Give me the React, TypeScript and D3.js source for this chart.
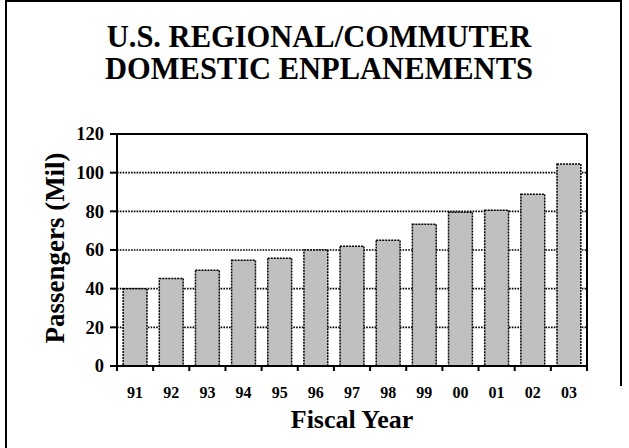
import * as d3 from "d3";

const years = ["91", "92", "93", "94", "95", "96", "97", "98", "99", "00", "01", "02", "03"];
const passengers = [40, 45.3, 49.5, 54.7, 55.7, 60, 61.9, 65, 73.3, 79.5, 80.5, 88.8, 104.5];
const yTicks = [0, 20, 40, 60, 80, 100, 120];
const titleLines = ["U.S. REGIONAL/COMMUTER", "DOMESTIC ENPLANEMENTS"];

export default function App() {
    // chart size and plot box
    const width = 629;
    const height = 448;
    const left = 117;
    const right = 587;
    const top = 134;
    const bottom = 366;
    const font = "'Liberation Serif', 'Times New Roman', serif";

    const x = d3.scaleBand<string>()
        .domain(years)
        .range([left, right])
        .paddingInner(0.34)
        .paddingOuter(0.17);

    const y = d3.scaleLinear()
        .domain([0, 120])
        .range([bottom, top]);

    const step = x.step();
    const rows = years.map((yr, i) => ({ yr, v: passengers[i] }));

    return (
        <svg
            width={width}
            height={height}
            style={{ position: "absolute", left: 0, top: 0, display: "block", background: "#fff" }}
            fontFamily={font}
            fontWeight="bold"
        >
            {/* outer frame */}
            <line x1={6} y1={0} x2={6} y2={448} stroke="#000" strokeWidth={2} />
            <line x1={6} y1={1} x2={622} y2={1} stroke="#000" strokeWidth={2} />
            <line x1={621} y1={0} x2={621} y2={386} stroke="#000" strokeWidth={2} />

            {/* title */}
            {titleLines.map((t, i) => (
                <text key={t} x={319} y={47 + i * 32} textAnchor="middle" fontSize={30.5}>{t}</text>
            ))}

            {/* gridlines */}
            {yTicks.filter(t => t > 0 && t < 120).map(t => (
                <line key={t} x1={left} x2={right} y1={y(t)} y2={y(t)}
                    stroke="#000" strokeWidth={1.6} strokeDasharray="1.6,1.2" />
            ))}

            {/* bars */}
            {rows.map(d => (
                <rect key={d.yr}
                    x={x(d.yr)}
                    y={y(d.v)}
                    width={x.bandwidth()}
                    height={bottom - y(d.v)}
                    fill="#c0c0c0"
                    stroke="#000"
                    strokeWidth={1.5}
                    strokeDasharray="2,1"
                />
            ))}

            {/* plot frame */}
            <line x1={left} x2={right} y1={top} y2={top} stroke="#000" strokeWidth={2} />
            <line x1={right} x2={right} y1={top} y2={bottom} stroke="#000" strokeWidth={2} />
            <line x1={left} x2={left} y1={top - 1} y2={bottom + 1} stroke="#000" strokeWidth={2} />
            <line x1={left - 1} x2={right + 1} y1={bottom} y2={bottom} stroke="#000" strokeWidth={2} />

            {/* y axis ticks and labels */}
            {yTicks.map(t => (
                <g key={t}>
                    <line x1={left - 7} x2={left} y1={y(t)} y2={y(t)} stroke="#000" strokeWidth={2} />
                    <text x={104} y={y(t)} dy="0.34em" textAnchor="end" fontSize={18.5}>{t}</text>
                </g>
            ))}

            {/* x axis ticks and labels */}
            {d3.range(years.length + 1).map(i => (
                <line key={i} x1={left + i * step} x2={left + i * step} y1={bottom} y2={bottom + 5}
                    stroke="#000" strokeWidth={2} />
            ))}
            {years.map(yr => (
                <text key={yr} x={(x(yr) ?? 0) + x.bandwidth() / 2} y={398} textAnchor="middle" fontSize={16}>{yr}</text>
            ))}

            {/* axis titles */}
            <text x={352} y={428} textAnchor="middle" fontSize={26}>Fiscal Year</text>
            <text transform={`translate(64,${(top + bottom) / 2 - 2}) rotate(-90)`} textAnchor="middle" fontSize={27}>
                Passengers (Mil)
            </text>
        </svg>
    );
}
